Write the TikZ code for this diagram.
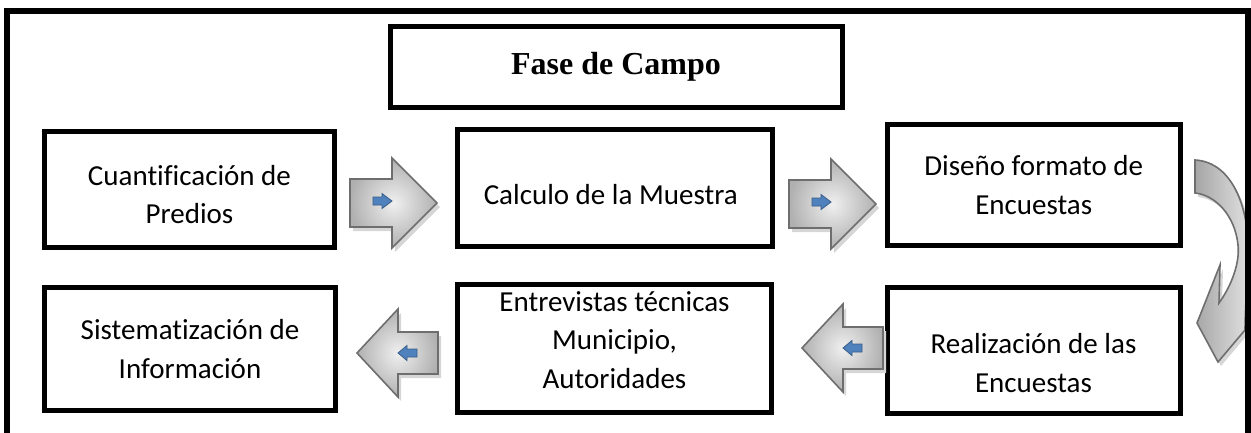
\documentclass[tikz,border=0pt]{standalone}
\usepackage{fontspec}
\setmainfont{Carlito}[Ligatures=CommonOff]
\newfontfamily\titlefont{Liberation Serif}
\usetikzlibrary{calc}
\definecolor{blueA}{HTML}{4F81BD}
\definecolor{blueB}{HTML}{385D8A}
\definecolor{arrowline}{HTML}{6E6E6E}
\tikzset{
  box/.style={draw=black, line width=5pt, fill=white, inner sep=0pt},
  txt/.style={font=\fontsize{29}{38.5}\selectfont, align=center, inner sep=0pt},
  ttl/.style={font=\titlefont\bfseries\fontsize{32}{38}\selectfont},
  bigarrow/.style={draw=arrowline, line width=1.6pt, line join=miter, inner color=gray!12, outer color=gray!62},
  ashadow/.style={fill=gray!32, draw=none},
  smallarrow/.style={fill=blueA, draw=blueB, line width=0.8pt},
  rarrow/.pic={
    \path[ashadow] (-84,-20) -- (-42,-20) -- (-42,-41) -- (3,4) -- (-42,49) -- (-42,28) -- (-84,28) -- cycle;
    \path[bigarrow] (-87,-24) -- (-45,-24) -- (-45,-45) -- (0,0) -- (-45,45) -- (-45,24) -- (-87,24) -- cycle;
    \path[smallarrow] (-64,-6) -- (-55,-6) -- (-55,-9.5) -- (-45,-2) -- (-55,5.5) -- (-55,2) -- (-64,2) -- cycle;
  },
  larrow/.pic={
    \path[ashadow] (84,-17) -- (44,-17) -- (44,-40) -- (3,4) -- (44,48) -- (44,25) -- (84,25) -- cycle;
    \path[bigarrow] (81,-21) -- (41,-21) -- (41,-44) -- (0,0) -- (41,44) -- (41,21) -- (81,21) -- cycle;
    \path[smallarrow] (60,-4) -- (50,-4) -- (50,-7.5) -- (41,0) -- (50,7.5) -- (50,4) -- (60,4) -- cycle;
  }
}
\begin{document}
\begin{tikzpicture}[x=1pt,y=-1pt]
\useasboundingbox (0,0) rectangle (1251,432);
\begin{scope}
\clip (0,0) rectangle (1251,432);

% title
\node[box, minimum width=452pt, minimum height=81pt, ttl] (title) at (616,67) {Fase de Campo};

% row 1 boxes
\node[box, minimum width=290pt, minimum height=116pt] (b1) at (189.5,189.5) {};
\node[box, minimum width=314.5pt, minimum height=117pt] (b2) at (614.75,188) {};
\node[box, minimum width=293.5pt, minimum height=121pt] (b3) at (1033.75,185) {};
% row 2 boxes
\node[box, minimum width=291.5pt, minimum height=123pt] (b4) at (190,349) {};
\node[box, minimum width=314pt, minimum height=128pt] (b5) at (614.5,348) {};
\node[box, minimum width=293pt, minimum height=126pt] (b6) at (1033.5,350) {};

% texts
\node[txt] (t1) at ($(b1.center)+(0,5)$) {Cuantificación de\\Predios};
\node[txt] (t2) at ($(b2.center)+(-4,7)$) {Calculo de la Muestra};
\node[txt] (t3) at ($(b3.center)+(0,0)$) {Diseño formato de\\Encuestas};
\node[txt] (t4) at ($(b4.center)+(0,0)$) {Sistematización de\\Información};
\node[txt] (t5) at ($(b5.center)+(0,-8)$) {Entrevistas técnicas\\Municipio,\\Autoridades};
\node[txt] (t6) at ($(b6.center)+(0,13)$) {Realización de las\\Encuestas};

% block arrows
\pic at (437,203) {rarrow};
\pic at (876,204) {rarrow};
\pic at (802,348) {larrow};
\pic at (357,353) {larrow};

% curved arrow
\path[fill=gray!32] (1198,164) .. controls (1236,166) and (1254,214) .. (1251,266)
  .. controls (1250,284) and (1248,320) .. (1248,334) -- (1221,366) -- (1200,327) -- (1223,269) -- (1222,307)
  .. controls (1235,289) and (1243,266) .. (1241,249) .. controls (1238,219) and (1218,199) .. (1198,197) -- cycle;
\path[draw=arrowline, line width=1.6pt, line join=miter, left color=gray!70, right color=gray!22]
  (1195,160) .. controls (1233,162) and (1251,210) .. (1248,262)
  .. controls (1247,280) and (1245,316) .. (1245,330) -- (1218,362) -- (1197,323) -- (1220,265) -- (1219,303)
  .. controls (1232,285) and (1240,262) .. (1238,245) .. controls (1235,215) and (1215,195) .. (1195,193) -- cycle;

% outer frame
\draw[line width=6pt, line join=miter] (7,450) -- (7,10.5) -- (1247.5,10.5) -- (1247.5,450);
\end{scope}
\end{tikzpicture}
\end{document}
